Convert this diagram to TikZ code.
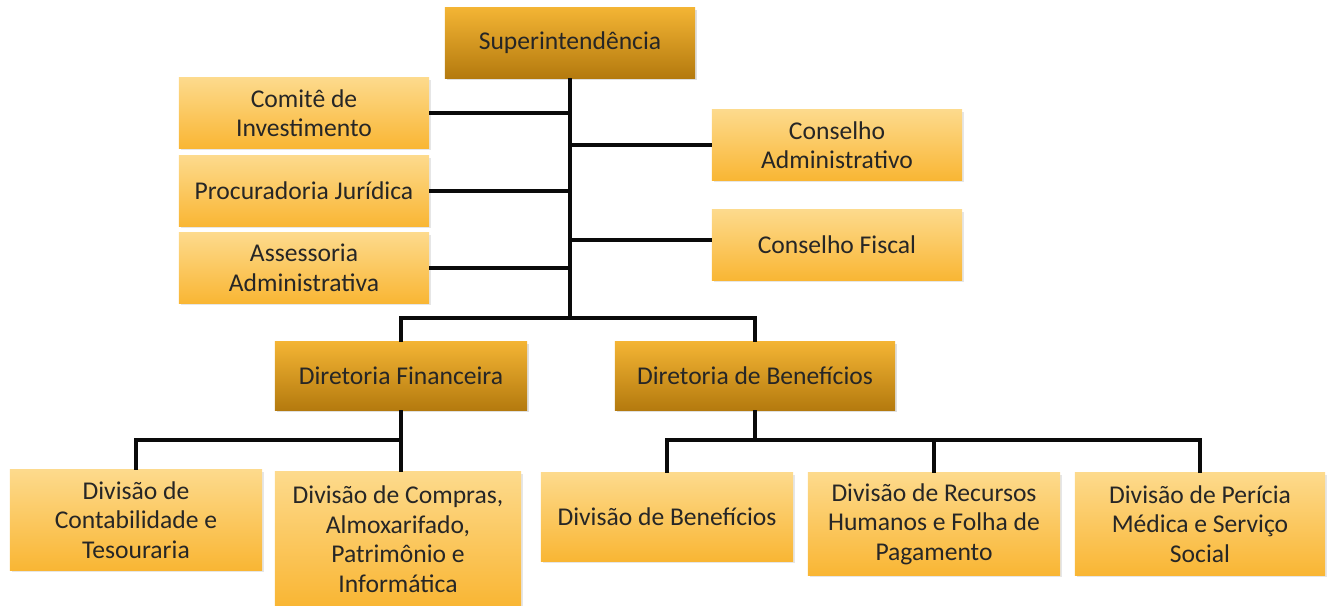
\documentclass[tikz,border=0pt]{standalone}
\usepackage{fontspec}
\setmainfont{Carlito}
\usetikzlibrary{positioning,shadows}
\definecolor{headtop}{RGB}{243,180,52}
\definecolor{headbot}{RGB}{180,122,14}
\definecolor{unittop}{RGB}{253,218,140}
\definecolor{unitbot}{RGB}{249,182,52}
\definecolor{inkline}{RGB}{10,10,10}

\begin{document}
\begin{tikzpicture}
        [x=0.025cm, y=-0.025cm,
        font=\fontsize{18.2}{21}\selectfont, text=black!85,
        % dark boxes are the top level and the two directorates
        headbox/.style={top color=headtop, bottom color=headbot,
        minimum width=6.25cm, minimum height=1.75cm, align=center,
        inner sep=2pt, drop shadow={shadow xshift=0.5mm, shadow yshift=-0.5mm, opacity=0.25}},
        unitbox/.style={top color=unittop, bottom color=unitbot,
        minimum width=6.25cm, minimum height=1.75cm, align=center,
        inner sep=2pt, drop shadow={shadow xshift=0.5mm, shadow yshift=-0.5mm, opacity=0.2}},
        link/.style={draw=inkline, line width=2.6pt}]
        \useasboundingbox (0,0) rectangle (1328,605);

        \node [headbox] (super) at (570,43) {Superintendência};
        \node [unitbox] (comite) at (304,113) {Comitê de\\Investimento};
        \node [unitbox] (procur) at (304,191) {Procuradoria Jurídica};
        \node [unitbox] (assess) at (304,268) {Assessoria\\Administrativa};
        \node [unitbox] (consadm) at (837,145) {Conselho\\Administrativo};
        \node [unitbox] (consfis) at (837,245) {Conselho Fiscal};

        \node [headbox, minimum width=6.3cm, minimum height=1.7cm] (dirfin) at (401,376) {Diretoria Financeira};
        \node [headbox, minimum width=7cm, minimum height=1.7cm] (dirben) at (755,376) {Diretoria de Benefícios};

        \node [unitbox, minimum width=6.3cm, minimum height=2.5cm] (contab) at (136,520) {Divisão de\\Contabilidade e\\Tesouraria};
        \node [unitbox, minimum width=6.15cm, minimum height=3.35cm] (compras) at (398,539) {Divisão de Compras,\\Almoxarifado,\\Patrimônio e\\Informática};
        \node [unitbox, minimum width=6.3cm, minimum height=2.2cm] (divben) at (667,517) {Divisão de Benefícios};
        \node [unitbox, minimum width=6.3cm, minimum height=2.55cm] (rh) at (934,524) {Divisão de Recursos\\Humanos e Folha de\\Pagamento};
        \node [unitbox, minimum width=6.25cm, minimum height=2.55cm] (pericia) at (1200,524) {Divisão de Perícia\\Médica e Serviço\\Social};

        % trunk and side branches
        \coordinate (fork) at (570,318);
        \draw [link] (super.south) -- (fork);
        \draw [link] (comite.east) -- (comite.east -| super);
        \draw [link] (procur.east) -- (procur.east -| super);
        \draw [link] (assess.east) -- (assess.east -| super);
        \draw [link] (consadm.west) -- (consadm.west -| super);
        \draw [link] (consfis.west) ++(0,-5) coordinate (cf) -- (cf -| super);
        \draw [link] (dirfin.north) |- (fork) -| (dirben.north);

        % financial directorate
        \coordinate (finbar) at (401,440);
        \draw [link] (dirfin.south) -- (finbar);
        \draw [link] (finbar |- compras.north) -- (finbar) -| (contab.north);

        % benefits directorate
        \coordinate (benbar) at (755,440);
        \draw [link] (dirben.south) -- (benbar);
        \draw [link] (divben.north) |- (benbar);
        \draw [link] (benbar) -| (pericia.north);
        \draw [link] (rh.north) -- (rh.north |- benbar);
\end{tikzpicture}
\end{document}
